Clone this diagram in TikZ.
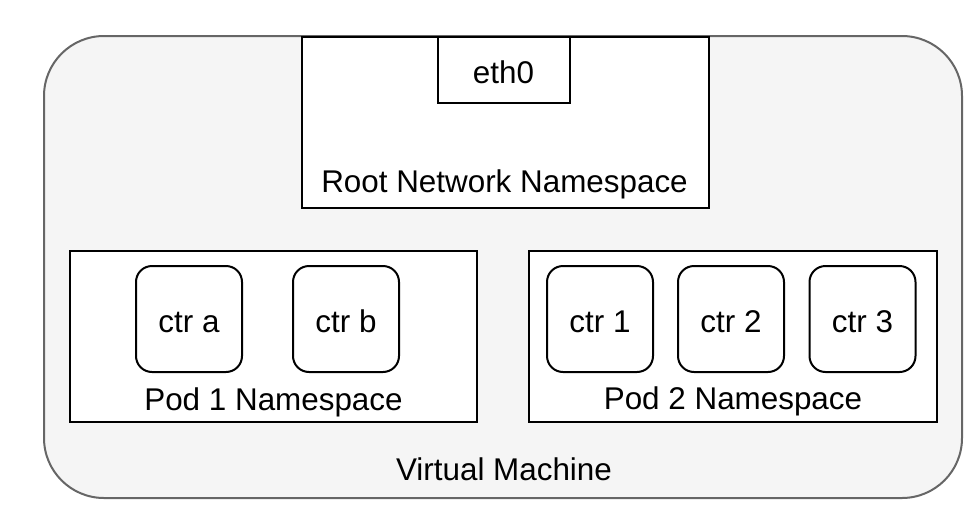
\documentclass[tikz,border=0pt]{standalone}
\usepackage{fontspec}
\setmainfont{Liberation Sans}
\begin{document}
\begin{tikzpicture}[x=1pt,y=-1pt,
  every node/.style={inner sep=0pt,outer sep=0pt,font=\fontsize{31.4}{36}\selectfont},
  vmbox/.style={draw=black!60,fill=black!4,line width=2pt,rounded corners=60pt},
  nsbox/.style={draw=black,fill=white,line width=2pt},
  ctrbox/.style={draw=black,fill=white,line width=2pt,rounded corners=16pt,
    minimum width=106pt,minimum height=106pt,text height=26pt,text depth=0pt},
  lbl/.style={anchor=base}]
\useasboundingbox (0,0) rectangle (980,509);
% virtual machine
\node[vmbox,minimum width=918pt,minimum height=462pt] (vm) at (503,267) {};
% root namespace
\node[nsbox,minimum width=407pt,minimum height=171pt] (root) at (505,122) {};
\node[nsbox,minimum width=132pt,minimum height=66pt] (eth) at (503.5,69.5) {};
\node[lbl] (ethl) at (503.5,83.5) {eth0};
\node[lbl] (rootl) at (504.5,192) {Root Network Namespace};
% pods
\node[nsbox,minimum width=407pt,minimum height=171pt] (pod1) at (273.5,336.5) {};
\node[nsbox,minimum width=408pt,minimum height=171pt] (pod2) at (733,336.5) {};
\node[ctrbox] (ca) at (189,319) {ctr a};
\node[ctrbox] (cb) at (346,319) {ctr b};
\node[ctrbox] (c1) at (600,319) {ctr 1};
\node[ctrbox] (c2) at (731,319) {ctr 2};
\node[ctrbox] (c3) at (862.5,319) {ctr 3};
\node[lbl] (pod1l) at (273.5,410) {Pod 1 Namespace};
\node[lbl] (pod2l) at (733,409.5) {Pod 2 Namespace};
\node[lbl] (vml) at (504,480) {Virtual Machine};
\end{tikzpicture}
\end{document}
